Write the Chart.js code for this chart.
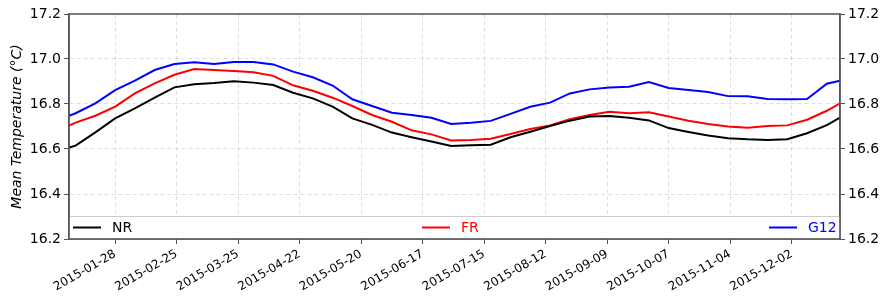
<!DOCTYPE html>
<html>
<head>
<meta charset="utf-8">
<script src="https://cdn.jsdelivr.net/npm/chart.js@4/dist/chart.umd.min.js"></script>
<style>
  body { margin: 0; background: #fff; }
</style>
</head>
<body>
<canvas id="tempChart" width="880" height="296"></canvas>
<script>
  // sample dates (2015)
  const dates = [
    "2015-01-07", "2015-01-10", "2015-01-19", "2015-01-28", "2015-02-06", "2015-02-15",
    "2015-02-24", "2015-03-05", "2015-03-14", "2015-03-23", "2015-04-01", "2015-04-10",
    "2015-04-19", "2015-04-28", "2015-05-07", "2015-05-16", "2015-05-25", "2015-06-03",
    "2015-06-12", "2015-06-21", "2015-06-30", "2015-07-09", "2015-07-18", "2015-07-27",
    "2015-08-05", "2015-08-14", "2015-08-23", "2015-09-01", "2015-09-10", "2015-09-19",
    "2015-09-28", "2015-10-07", "2015-10-16", "2015-10-25", "2015-11-03", "2015-11-12",
    "2015-11-21", "2015-11-30", "2015-12-09", "2015-12-18", "2015-12-24"
  ];
  const nr = [
    16.606, 16.615, 16.674, 16.736, 16.781, 16.828, 16.874, 16.888, 16.893, 16.901,
    16.895, 16.884, 16.850, 16.825, 16.788, 16.736, 16.707, 16.673, 16.652, 16.633,
    16.613, 16.617, 16.619, 16.652, 16.677, 16.702, 16.726, 16.744, 16.747, 16.739,
    16.727, 16.693, 16.676, 16.660, 16.648, 16.643, 16.640, 16.643, 16.670, 16.706, 16.739
  ];
  const fr = [
    16.704, 16.717, 16.748, 16.788, 16.847, 16.892, 16.930, 16.955, 16.951, 16.947,
    16.941, 16.925, 16.883, 16.859, 16.828, 16.791, 16.751, 16.721, 16.683, 16.665,
    16.638, 16.640, 16.646, 16.667, 16.689, 16.705, 16.732, 16.751, 16.766, 16.759,
    16.763, 16.744, 16.726, 16.711, 16.700, 16.695, 16.702, 16.705, 16.730, 16.770, 16.803
  ];
  const g12 = [
    16.747, 16.759, 16.803, 16.862, 16.904, 16.951, 16.978, 16.985, 16.978, 16.987,
    16.987, 16.976, 16.944, 16.919, 16.882, 16.821, 16.791, 16.761, 16.751, 16.739,
    16.711, 16.717, 16.725, 16.756, 16.788, 16.806, 16.847, 16.865, 16.873, 16.877,
    16.898, 16.871, 16.862, 16.853, 16.835, 16.834, 16.822, 16.821, 16.822, 16.890, 16.904
  ];
  const tickDates = [
    "2015-01-28", "2015-02-25", "2015-03-25", "2015-04-22", "2015-05-20", "2015-06-17",
    "2015-07-15", "2015-08-12", "2015-09-09", "2015-10-07", "2015-11-04", "2015-12-02"
  ];
  const yTicks = [16.2, 16.4, 16.6, 16.8, 17.0, 17.2];

  // day of year helpers (linear x axis, no date adapter)
  const base = Date.UTC(2015, 0, 0);
  const toDay = s => {
    const [y, m, d] = s.split("-").map(Number);
    return (Date.UTC(y, m - 1, d) - base) / 86400000;
  };
  const fmtDay = v => {
    const t = new Date(base + v * 86400000);
    const mm = String(t.getUTCMonth() + 1).padStart(2, "0");
    const dd = String(t.getUTCDate()).padStart(2, "0");
    return t.getUTCFullYear() + "-" + mm + "-" + dd;
  };
  const days = dates.map(toDay);
  const series = (vals) => days.map((d, i) => ({ x: d, y: vals[i] }));

  Chart.defaults.font.family = "'DejaVu Sans', sans-serif";
  Chart.defaults.color = "#000";

  const gridColor = "rgba(0,0,0,0.13)";
  const axisColor = "#555";

  // legend inside the plot + top frame line
  const framePlugin = {
    id: "frame",
    afterDraw(chart) {
      const { ctx, chartArea: a } = chart;
      const top = a.bottom - 23;
      const cy = a.bottom - 11.5;
      ctx.save();
      ctx.fillStyle = "rgba(255,255,255,0.8)";
      ctx.fillRect(a.left, top, a.right - a.left, a.bottom - top);
      ctx.strokeStyle = "#cccccc";
      ctx.lineWidth = 1;
      ctx.strokeRect(a.left + 0.5, top + 0.5, a.right - a.left - 1, a.bottom - top - 1);

      const items = chart.data.datasets;
      const starts = [a.left + 4, a.left + 353, a.right - 71];
      ctx.font = "14px 'DejaVu Sans'";
      ctx.textBaseline = "middle";
      items.forEach((ds, i) => {
        const x = starts[i];
        ctx.strokeStyle = ds.borderColor;
        ctx.lineWidth = 2;
        ctx.beginPath();
        ctx.moveTo(x, cy);
        ctx.lineTo(x + 28, cy);
        ctx.stroke();
        ctx.fillStyle = ds.borderColor;
        ctx.fillText(ds.label, x + 39, cy + 1);
      });

      ctx.strokeStyle = axisColor;
      ctx.lineWidth = 1.5;
      ctx.strokeRect(a.left, a.top, a.right - a.left, a.bottom - a.top);
      ctx.restore();
    }
  };

  const yAxis = (pos, w) => ({
    position: pos,
    min: 16.2,
    max: 17.2,
    afterBuildTicks: s => { s.ticks = yTicks.map(v => ({ value: v })); },
    afterFit: s => { s.width = w; },
    ticks: { font: { size: 14 }, color: "#000", padding: 3, callback: v => Number(v).toFixed(1) },
    grid: { color: gridColor, drawOnChartArea: pos === "left", tickColor: axisColor, tickLength: 5 },
    border: { color: axisColor, width: 1.5, dash: [4, 3] }
  });

  const ctx = document.getElementById("tempChart").getContext("2d");
  new Chart(ctx, {
    type: "line",
    data: {
      datasets: [
        { label: "NR", data: series(nr), borderColor: "#000000", borderWidth: 2, pointRadius: 0, yAxisID: "y" },
        { label: "FR", data: series(fr), borderColor: "#ff0000", borderWidth: 2, pointRadius: 0, yAxisID: "y" },
        { label: "G12", data: series(g12), borderColor: "#0000ff", borderWidth: 2, pointRadius: 0, yAxisID: "y" }
      ]
    },
    options: {
      responsive: false,
      animation: false,
      layout: { padding: { top: 14, left: 0, right: 0, bottom: 0 } },
      plugins: { legend: { display: false }, tooltip: { enabled: false } },
      scales: {
        x: {
          type: "linear",
          min: days[0],
          max: days[days.length - 1],
          afterBuildTicks: s => { s.ticks = tickDates.map(t => ({ value: toDay(t) })); },
          afterFit: s => { s.height = 57; },
          ticks: {
            autoSkip: false,
            minRotation: 30,
            maxRotation: 30,
            font: { size: 12 },
            color: "#000",
            callback: v => fmtDay(v)
          },
          grid: { color: gridColor, tickColor: axisColor, tickLength: 5 },
          border: { color: axisColor, width: 1.5, dash: [4, 3] }
        },
        y: Object.assign(yAxis("left", 69), {
          title: {
            display: true,
            text: "Mean Temperature (°C)",
            font: { size: 14, style: "italic" },
            color: "#000",
            padding: { top: 9, bottom: 0 }
          }
        }),
        y2: yAxis("right", 40)
      }
    },
    plugins: [framePlugin]
  });
</script>
</body>
</html>
